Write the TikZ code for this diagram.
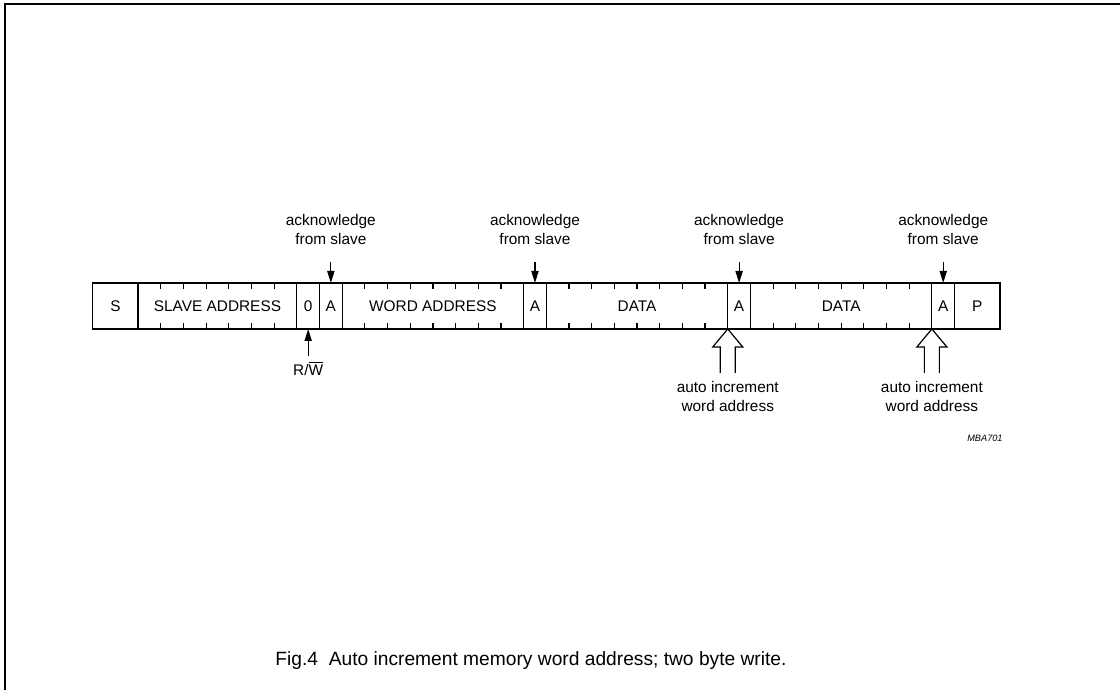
\documentclass[tikz,border=0pt]{standalone}
\usepackage{fontspec}
\setmainfont{Liberation Sans}
\usetikzlibrary{positioning,arrows.meta}

\newcommand{\bitw}{11.34pt}
\newcommand{\labfont}{\fontsize{7.7pt}{9.5pt}\selectfont}
\newcommand{\incArrow}[1]{%
  \draw[hollow] ([xshift=-3.75pt,yshift=-22pt]#1) -- ++(0,13pt) -- ++(-3.75pt,0) -- (#1)
    -- ++(7.5pt,-9pt) -- ++(-3.75pt,0) -- ++(0,-13pt);}

\tikzstyle{bitField} = [rectangle, minimum height=23pt, inner sep=0pt, outer sep=0pt, text centered, draw=black, line width=0.6pt, font=\labfont]
\tikzstyle{noteText} = [align=center, inner sep=1pt, font=\labfont]
\tikzstyle{tick} = [line width=0.6pt]
\tikzstyle{hollow} = [line width=0.6pt]
\tikzstyle{arrow} = [line width=0.6pt,->,>={Triangle[length=6pt,width=3.6pt]}]

\begin{document}
\begin{tikzpicture}
    \useasboundingbox (0,0) rectangle (560pt,345pt);
    \draw[line width=1pt] (2.5pt,0pt) -- (2.5pt,343pt) -- (560pt,343pt);

    \node (s)[bitField, minimum width=2*\bitw] at (57.7pt,192pt) {S};
    \node (slave)[bitField, minimum width=7*\bitw, right=0pt of s] {SLAVE ADDRESS};
    \node (rw)[bitField, minimum width=\bitw, right=0pt of slave] {0};
    \node (a1)[bitField, minimum width=\bitw, right=0pt of rw] {A};
    \node (word)[bitField, minimum width=8*\bitw, right=0pt of a1] {WORD ADDRESS};
    \node (a2)[bitField, minimum width=\bitw, right=0pt of word] {A};
    \node (data1)[bitField, minimum width=8*\bitw, right=0pt of a2] {DATA};
    \node (a3)[bitField, minimum width=\bitw, right=0pt of data1] {A};
    \node (data2)[bitField, minimum width=8*\bitw, right=0pt of a3] {DATA};
    \node (a4)[bitField, minimum width=\bitw, right=0pt of data2] {A};
    \node (p)[bitField, minimum width=2*\bitw, right=0pt of a4] {P};

    % bit marks
    \foreach \f/\n in {slave/6,word/7,data1/7,data2/7}
      \foreach \k in {1,...,\n} {
        \draw[tick] ([xshift=\k*\bitw]\f.north west) -- ++(0,-3pt);
        \draw[tick] ([xshift=\k*\bitw]\f.south west) -- ++(0,3pt);
      }

    \foreach \a in {a1,a2,a3,a4} {
      \node (ack\a)[noteText, above=18pt of \a] {acknowledge\\from slave};
      \draw[arrow, shorten <=7.5pt] (ack\a) -- (\a);
    }

    \node (rwlabel)[noteText, below=15pt of rw] {R/$\overline{\hbox{W}}$};
    \draw[arrow, shorten <=1.5pt] (rwlabel) -- (rw);

    \node (inc1)[noteText, below=25pt of a3.south west] {auto increment\\word address};
    \node (inc2)[noteText, below=25pt of a4.south west] {auto increment\\word address};
    \incArrow{a3.south west}
    \incArrow{a4.south west}

    \node (code)[font=\fontsize{4.6pt}{5pt}\selectfont\itshape, anchor=east, inner sep=0pt] at (501.5pt,126pt) {MBA701};
    \node (caption)[font=\fontsize{9.6pt}{11pt}\selectfont, inner sep=0pt] at (265.5pt,14.5pt) {Fig.4\ \ Auto increment memory word address; two byte write.};
\end{tikzpicture}
\end{document}
